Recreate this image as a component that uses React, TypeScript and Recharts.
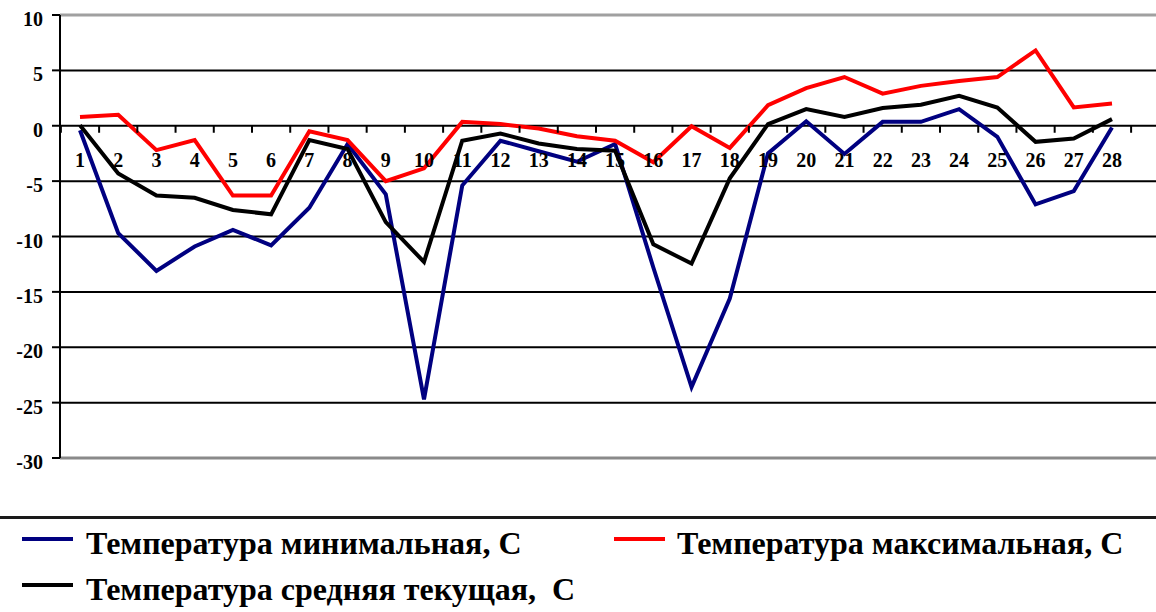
import React from "react";
import {
  LineChart,
  Line,
  XAxis,
  YAxis,
  CartesianGrid,
  ReferenceLine,
  Legend,
} from "recharts";

// Days of the month (category axis)
const days = [
  "1", "2", "3", "4", "5", "6", "7", "8", "9", "10", "11", "12", "13", "14",
  "15", "16", "17", "18", "19", "20", "21", "22", "23", "24", "25", "26", "27", "28",
];

// Temperature series
const tMin = [
  -0.4, -9.7, -13.1, -10.9, -9.4, -10.8, -7.4, -1.65, -6.2, -24.7, -5.4, -1.35,
  -2.3, -3.25, -1.65, -12.8, -23.6, -15.6, -2.5, 0.4, -2.55, 0.35, 0.35, 1.5,
  -1.0, -7.1, -5.9, -0.15,
];
const tMax = [
  0.8, 1.0, -2.2, -1.3, -6.3, -6.3, -0.5, -1.3, -5.0, -3.85, 0.35, 0.15, -0.25,
  -0.95, -1.35, -3.3, -0.05, -2.0, 1.85, 3.4, 4.4, 2.9, 3.6, 4.05, 4.4, 6.8,
  1.65, 2.0,
];
const tAvg = [
  0.05, -4.3, -6.3, -6.5, -7.6, -8.0, -1.3, -2.1, -8.7, -12.3, -1.35, -0.7,
  -1.6, -2.1, -2.25, -10.7, -12.45, -4.75, 0.15, 1.5, 0.8, 1.6, 1.9, 2.7, 1.65,
  -1.45, -1.15, 0.6,
];

const yTicks = [10, 5, 0, -5, -10, -15, -20, -25, -30];

const names = [
  "Температура минимальная, С",
  "Температура максимальная, С",
  "Температура средняя текущая,  С",
];

const data = days.map((day, i) => ({
  day,
  min: tMin[i],
  max: tMax[i],
  avg: tAvg[i],
}));

// geometry
const W = 1156;
const H = 612;
const M_TOP = 15;
const M_BOTTOM = 124;
const Y_W = 60;
const X_H = 30;
const PAD_L = 20;
const PAD_R = 44;
const PLOT_H = H - M_TOP - M_BOTTOM - X_H;
const PLOT_W = W - Y_W;
const Y_MIN = -30;
const Y_MAX = 10;
const ZERO_Y = M_TOP + (PLOT_H * (Y_MAX - 0)) / (Y_MAX - Y_MIN);
const STEP = (PLOT_W - PAD_L - PAD_R) / (days.length - 1);

const FONT = "Liberation Serif, Tinos, Times New Roman, Times, serif";

// x labels sit under the zero line, with small ticks between days
function DayTick(props: any) {
  const { x, index, payload } = props;
  const last = index === days.length - 1;
  return (
    <g>
      <line x1={x - STEP / 2} x2={x - STEP / 2} y1={ZERO_Y} y2={ZERO_Y + 7} stroke="#000" strokeWidth={2} />
      {last && (
        <line x1={x + STEP / 2} x2={x + STEP / 2} y1={ZERO_Y} y2={ZERO_Y + 7} stroke="#000" strokeWidth={2} />
      )}
      <text
        x={x}
        y={ZERO_Y + 41}
        textAnchor="middle"
        style={{ fontFamily: FONT, fontWeight: 700, fontSize: 20 }}
        fill="#000"
      >
        {payload.value}
      </text>
    </g>
  );
}

function ValueTick(props: any) {
  const { x, y, payload } = props;
  return (
    <text
      x={x}
      y={y + 11}
      textAnchor="end"
      style={{ fontFamily: FONT, fontWeight: 700, fontSize: 20 }}
      fill="#000"
    >
      {payload.value}
    </text>
  );
}

// legend slots by series key
const legendPos: Record<string, { left: number; top: number; gap: number }> = {
  min: { left: 22, top: 0, gap: 64 },
  max: { left: 614, top: 0, gap: 63 },
  avg: { left: 22, top: 46, gap: 64 },
};

function LegendBox(props: any) {
  const payload = props.payload || [];
  return (
    <div style={{ position: "relative", width: W, height: 96 }}>
      <div style={{ position: "absolute", left: 0, top: 0, width: W, height: 3, background: "#1a1a1a" }} />
      {payload.map((p: any) => {
        const pos = legendPos[p.dataKey] || legendPos.min;
        return (
          <div key={p.value} style={{ position: "absolute", left: pos.left, top: pos.top }}>
            <div
              style={{
                position: "absolute",
                left: 0,
                top: 21,
                width: 51,
                height: 4,
                background: p.color,
              }}
            />
            <div
              style={{
                position: "absolute",
                left: pos.gap,
                top: 11,
                fontFamily: FONT,
                fontWeight: 700,
                fontSize: 32,
                lineHeight: "32px",
                whiteSpace: "pre",
                color: "#000",
              }}
            >
              {p.value}
            </div>
          </div>
        );
      })}
    </div>
  );
}

export default function App() {
  return (
    <div style={{ position: "absolute", left: 0, top: 0, width: W, height: H, background: "#fff", fontFamily: FONT }}>
      <LineChart
        width={W}
        height={H}
        data={data}
        margin={{ top: M_TOP, right: 0, left: 0, bottom: M_BOTTOM }}
      >
        <CartesianGrid vertical={false} stroke="#000" strokeWidth={2} />
        <ReferenceLine y={Y_MAX} stroke="#a0a0a0" strokeWidth={3} />
        <ReferenceLine y={Y_MIN} stroke="#8a8a8a" strokeWidth={3} />
        <XAxis
          dataKey="day"
          interval={0}
          height={X_H}
          axisLine={false}
          tickLine={false}
          padding={{ left: PAD_L, right: PAD_R }}
          tick={<DayTick />}
        />
        <YAxis
          width={Y_W}
          domain={[Y_MIN, Y_MAX]}
          ticks={yTicks}
          interval={0}
          axisLine={{ stroke: "#000", strokeWidth: 2 }}
          tickLine={{ stroke: "#000", strokeWidth: 2 }}
          tickSize={8}
          tickMargin={9}
          tick={<ValueTick />}
        />
        <Line
          type="linear"
          dataKey="min"
          name={names[0]}
          stroke="#000080"
          strokeWidth={4}
          dot={false}
          isAnimationActive={false}
        />
        <Line
          type="linear"
          dataKey="max"
          name={names[1]}
          stroke="#ff0000"
          strokeWidth={4}
          dot={false}
          isAnimationActive={false}
        />
        <Line
          type="linear"
          dataKey="avg"
          name={names[2]}
          stroke="#000000"
          strokeWidth={4}
          dot={false}
          isAnimationActive={false}
        />
        <Legend
          layout="horizontal"
          verticalAlign="middle"
          align="center"
          wrapperStyle={{ top: 516, left: 0, width: W, height: 96 }}
          content={<LegendBox />}
        />
      </LineChart>
    </div>
  );
}
